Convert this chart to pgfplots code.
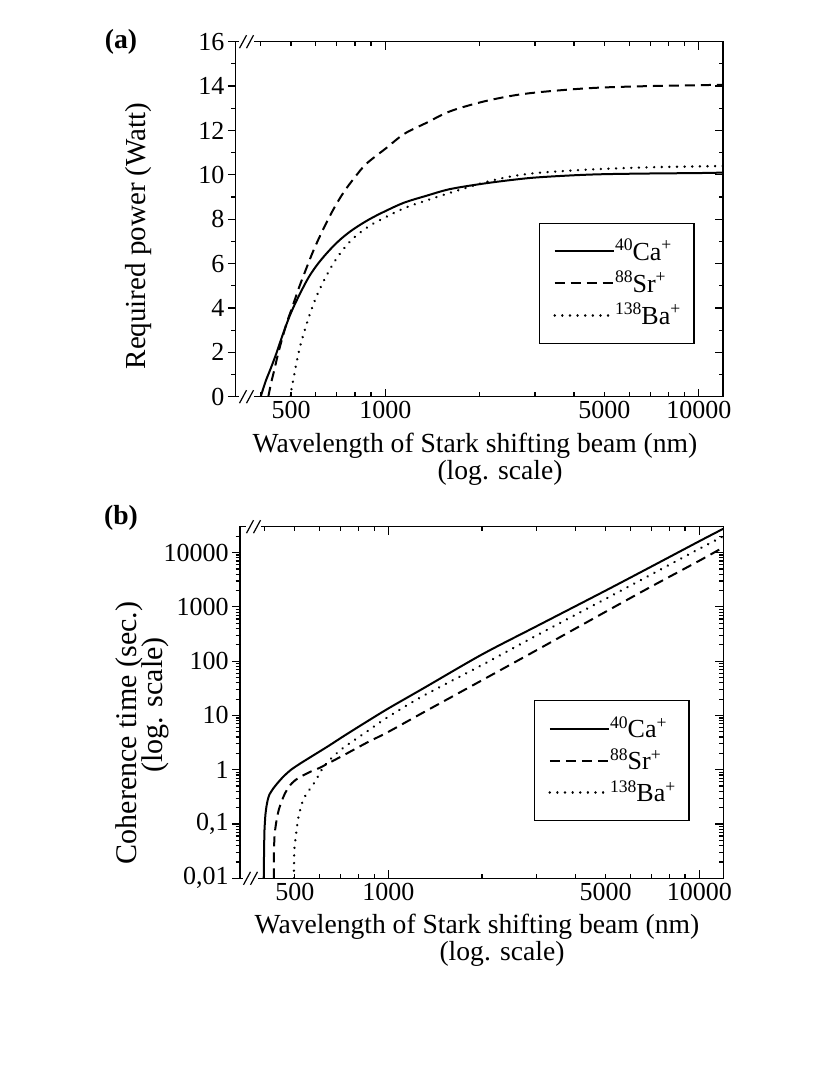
\documentclass[border=0pt]{standalone}
\usepackage{fontspec}
\setmainfont{Liberation Serif}
\usepackage{pgfplots}
\usepackage{pgfplotstable}
\pgfplotsset{compat=1.18}
\newcommand\tickfont{\fontsize{13}{15}\selectfont}
\newcommand\legfont{\fontsize{13}{15}\selectfont}
\newcommand\labfont{\fontsize{13.8}{16}\selectfont}
\newcommand\sups[1]{\raisebox{0.8ex}{\fontsize{8.8}{10}\selectfont #1}}

% ---------- panel (a): required power (W) ----------
\pgfplotstableread{
l p
400 0
415 0.7
430 1.25
448 1.92
470 2.78
498 3.73
530 4.55
569 5.38
610 6.0
661 6.58
720 7.1
791 7.55
890 8.0
1005 8.38
1150 8.75
1355 9.06
1600 9.35
2000 9.58
2500 9.76
3025 9.88
4000 9.98
5020 10.03
7000 10.06
10000 10.08
11950 10.1
}\caA
\pgfplotstableread{
l p
423 0
432 0.62
442 1.2
454 1.9
467 2.55
485 3.35
505 4.05
528 4.85
553 5.6
590 6.6
631 7.5
680 8.4
735 9.2
800 9.9
870 10.5
1005 11.2
1150 11.85
1355 12.35
1600 12.85
2000 13.26
2500 13.55
3025 13.71
4000 13.86
5020 13.94
7000 14.0
10000 14.04
11950 14.06
}\srA
\pgfplotstableread{
l p
496 0
505 0.55
520 1.5
535 2.3
553 3.0
575 3.75
604 4.55
640 5.3
682 6.0
730 6.6
791 7.15
890 7.7
1005 8.1
1150 8.5
1355 8.85
1600 9.18
1850 9.45
2100 9.68
2500 9.92
3025 10.08
4000 10.2
5020 10.27
7000 10.34
10000 10.38
11950 10.4
}\baA

% ---------- panel (b): coherence time (s) ----------
\pgfplotstableread{
l t
397 0.01
397.5 0.018
398 0.03
399 0.07
400.5 0.11
402 0.15
405 0.21
409 0.28
414 0.35
420 0.40
427 0.46
440 0.57
460 0.755
486 1.0
520 1.3
566 1.76
640 2.72
720 4.21
850 7.64
1000 13.5
1300 32
2000 133
3000 442
5000 2000
7000 5500
10000 16200
11950 27500
}\caB
\pgfplotstableread{
l t
428 0.01
428.3 0.03
430 0.06
433.5 0.091
438 0.13
444 0.185
453 0.26
465 0.37
480 0.50
501 0.64
530 0.78
566 0.94
600 1.08
640 1.31
721 1.88
850 3.13
1000 5.0
1300 11.5
2000 44.5
3000 160
5000 815
7000 2360
10000 7080
11950 12500
}\srB
\pgfplotstableread{
l t
496 0.01
497 0.02
498 0.034
505 0.069
514 0.139
532 0.28
557 0.43
580 0.6
600 0.85
620 1.15
660 1.7
720 2.6
850 5.0
1000 9.5
1300 23.3
2000 85
3000 299
5000 1410
7000 3940
10000 11750
11950 20000
}\baB

\begin{document}
\begin{tikzpicture}
\path[use as bounding box] (0pt,0pt) rectangle (415pt,-537.5pt);

% ================= (a) =================
\begin{axis}[
  scale only axis, anchor=south west,
  at={(117.85pt,-198.35pt)}, width=243.65pt, height=177.5pt,
  xmode=log, xmin=333, xmax=11950,
  ymin=0, ymax=16,
  axis line style={line width=0.6pt},
  tick style={line width=0.6pt, black},
  major tick length=4pt, minor tick length=2.2pt,
  tick label style={font=\tickfont},
  xtick={1000,10000}, xticklabels={1000,10000},
  minor xtick={400,500,600,700,800,900,2000,3000,4000,5000,6000,7000,8000,9000},
  extra x ticks={500,5000}, extra x tick labels={500,5000},
  extra x tick style={major tick length=0pt},
  ytick={0,2,...,16}, minor ytick={1,3,...,15},
  xtick pos=both, ytick pos=right, tick align=inside,
  yticklabels={},
  xticklabel style={inner ysep=2pt},
  legend cell align=left,
  legend image code/.code={\draw[#1] (0pt,0pt) -- (29.5pt,0pt);},
  legend style={at={(0.622,0.49)}, anchor=north west, draw=black, line width=0.6pt,
    inner xsep=7pt, inner ysep=6pt, row sep=0pt, font=\legfont,
    nodes={inner sep=0pt, minimum height=16pt}},
]
\addplot[black, line width=1pt, smooth, tension=0.55] table[x=l,y=p] {\caA};
\addlegendentry{\makebox[32.5pt][l]{\sups{40}Ca\sups{+}}}
\addplot[black, line width=1pt, dash pattern=on 5pt off 3pt, smooth, tension=0.55] table[x=l,y=p] {\srA};
\addlegendentry{\makebox[32.5pt][l]{\sups{88}Sr\sups{+}}}
\addplot[black, line width=1.3pt, dash pattern=on 0.01pt off 3.8pt, line cap=round, smooth, tension=0.55] table[x=l,y=p] {\baA};
\addlegendentry{\makebox[32.5pt][l]{\sups{138}Ba\sups{+}}}
\end{axis}
\begin{axis}[
  scale only axis, anchor=south west,
  at={(117.85pt,-198.35pt)}, width=243.65pt, height=177.5pt,
  xmode=log, xmin=333, xmax=11950,
  ymin=0, ymax=16,
  axis line style={line width=0.6pt},
  tick style={line width=0.6pt, black},
  major tick length=4pt, minor tick length=2.2pt,
  tick label style={font=\tickfont},
  hide x axis, ytick pos=left, tick align=outside,
  yticklabel style={inner xsep=1.5pt},
  ytick={0,2,...,16}, minor ytick={1,3,...,15},
  yticklabels={0,2,4,6,8,10,12,14,16},
]
\addplot[draw=none] table[x=l,y=p] {\caA};
\end{axis}

% ================= (b) =================
\begin{axis}[
  scale only axis, anchor=south west,
  at={(120pt,-439.15pt)}, width=241.65pt, height=175.8pt,
  xmode=log, xmin=333, xmax=11950,
  ymode=log, ymin=0.01, ymax=30000,
  axis line style={line width=0.6pt},
  tick style={line width=0.6pt, black},
  major tick length=4pt, minor tick length=2.2pt,
  tick label style={font=\tickfont},
  xtick={1000,10000}, xticklabels={1000,10000},
  minor xtick={400,500,600,700,800,900,2000,3000,4000,5000,6000,7000,8000,9000},
  extra x ticks={500,5000}, extra x tick labels={500,5000},
  extra x tick style={major tick length=0pt},
  ytick={0.01,0.1,1,10,100,1000,10000},
  minor ytick={0.02,0.03,0.04,0.05,0.06,0.07,0.08,0.09,0.2,0.3,0.4,0.5,0.6,0.7,0.8,0.9,2,3,4,5,6,7,8,9,20,30,40,50,60,70,80,90,200,300,400,500,600,700,800,900,2000,3000,4000,5000,6000,7000,8000,9000,20000},
  xtick pos=both, ytick pos=right, tick align=inside,
  yticklabels={},
  xticklabel style={inner ysep=2pt},
  legend cell align=left,
  legend image code/.code={\draw[#1] (0pt,0pt) -- (29.5pt,0pt);},
  legend style={at={(0.608,0.507)}, anchor=north west, draw=black, line width=0.6pt,
    inner xsep=7pt, inner ysep=6pt, row sep=0pt, font=\legfont,
    nodes={inner sep=0pt, minimum height=16pt}},
]
\addplot[black, line width=1pt, smooth, tension=0.5] table[x=l,y=t] {\caB};
\addlegendentry{\makebox[32.5pt][l]{\sups{40}Ca\sups{+}}}
\addplot[black, line width=1pt, dash pattern=on 5pt off 3pt, smooth, tension=0.5] table[x=l,y=t] {\srB};
\addlegendentry{\makebox[32.5pt][l]{\sups{88}Sr\sups{+}}}
\addplot[black, line width=1.3pt, dash pattern=on 0.01pt off 3.8pt, line cap=round, smooth, tension=0.5] table[x=l,y=t] {\baB};
\addlegendentry{\makebox[32.5pt][l]{\sups{138}Ba\sups{+}}}
\end{axis}
\begin{axis}[
  scale only axis, anchor=south west,
  at={(120pt,-439.15pt)}, width=241.65pt, height=175.8pt,
  xmode=log, xmin=333, xmax=11950,
  ymode=log, ymin=0.01, ymax=30000,
  axis line style={line width=0.6pt},
  tick style={line width=0.6pt, black},
  major tick length=4pt, minor tick length=2.2pt,
  tick label style={font=\tickfont},
  hide x axis, ytick pos=left, tick align=outside,
  yticklabel style={inner xsep=1.5pt},
  ytick={0.01,0.1,1,10,100,1000,10000},
  minor ytick={0.02,0.03,0.04,0.05,0.06,0.07,0.08,0.09,0.2,0.3,0.4,0.5,0.6,0.7,0.8,0.9,2,3,4,5,6,7,8,9,20,30,40,50,60,70,80,90,200,300,400,500,600,700,800,900,2000,3000,4000,5000,6000,7000,8000,9000,20000},
  yticklabels={{0,01},{0,1},1,10,100,1000,10000},
]
\addplot[draw=none] table[x=l,y=t] {\caB};
\end{axis}

% ================= texts and axis breaks (pixel frame) =================
\begin{scope}[x=0.5pt,y=-0.5pt]
\node[font=\labfont\bfseries, anchor=base] at (121,49) {(a)};
\node[font=\labfont\bfseries, anchor=base] at (121,524) {(b)};
\node[font=\labfont, anchor=base] at (475,452) {Wavelength of Stark shifting beam (nm)};
\node[font=\labfont, anchor=base] at (500,479) {(log. scale)};
\node[font=\labfont, anchor=base] at (477,933) {Wavelength of Stark shifting beam (nm)};
\node[font=\labfont, anchor=base] at (502,960) {(log. scale)};
\node[font=\fontsize{14.5}{16}\selectfont, anchor=base, rotate=90] at (145,236) {Required power (Watt)};
\node[font=\fontsize{15}{17}\selectfont, anchor=base, rotate=90] at (136,733) {Coherence time (sec.)};
\node[font=\fontsize{15}{17}\selectfont, anchor=base, rotate=90] at (162,705) {(log. scale)};
% axis breaks
\foreach \cx/\cy in {243/41.7, 243/396.7, 250/526.7, 247/878.3}{
  \fill[white] (\cx-4,\cy-1.6) rectangle (\cx+11,\cy+1.6);
  \draw[line width=0.6pt] (\cx-3.5,\cy+6.5) -- (\cx+3.5,\cy-6.5);
  \draw[line width=0.6pt] (\cx+3.5,\cy+6.5) -- (\cx+10.5,\cy-6.5);
}
\end{scope}
\end{tikzpicture}
\end{document}
